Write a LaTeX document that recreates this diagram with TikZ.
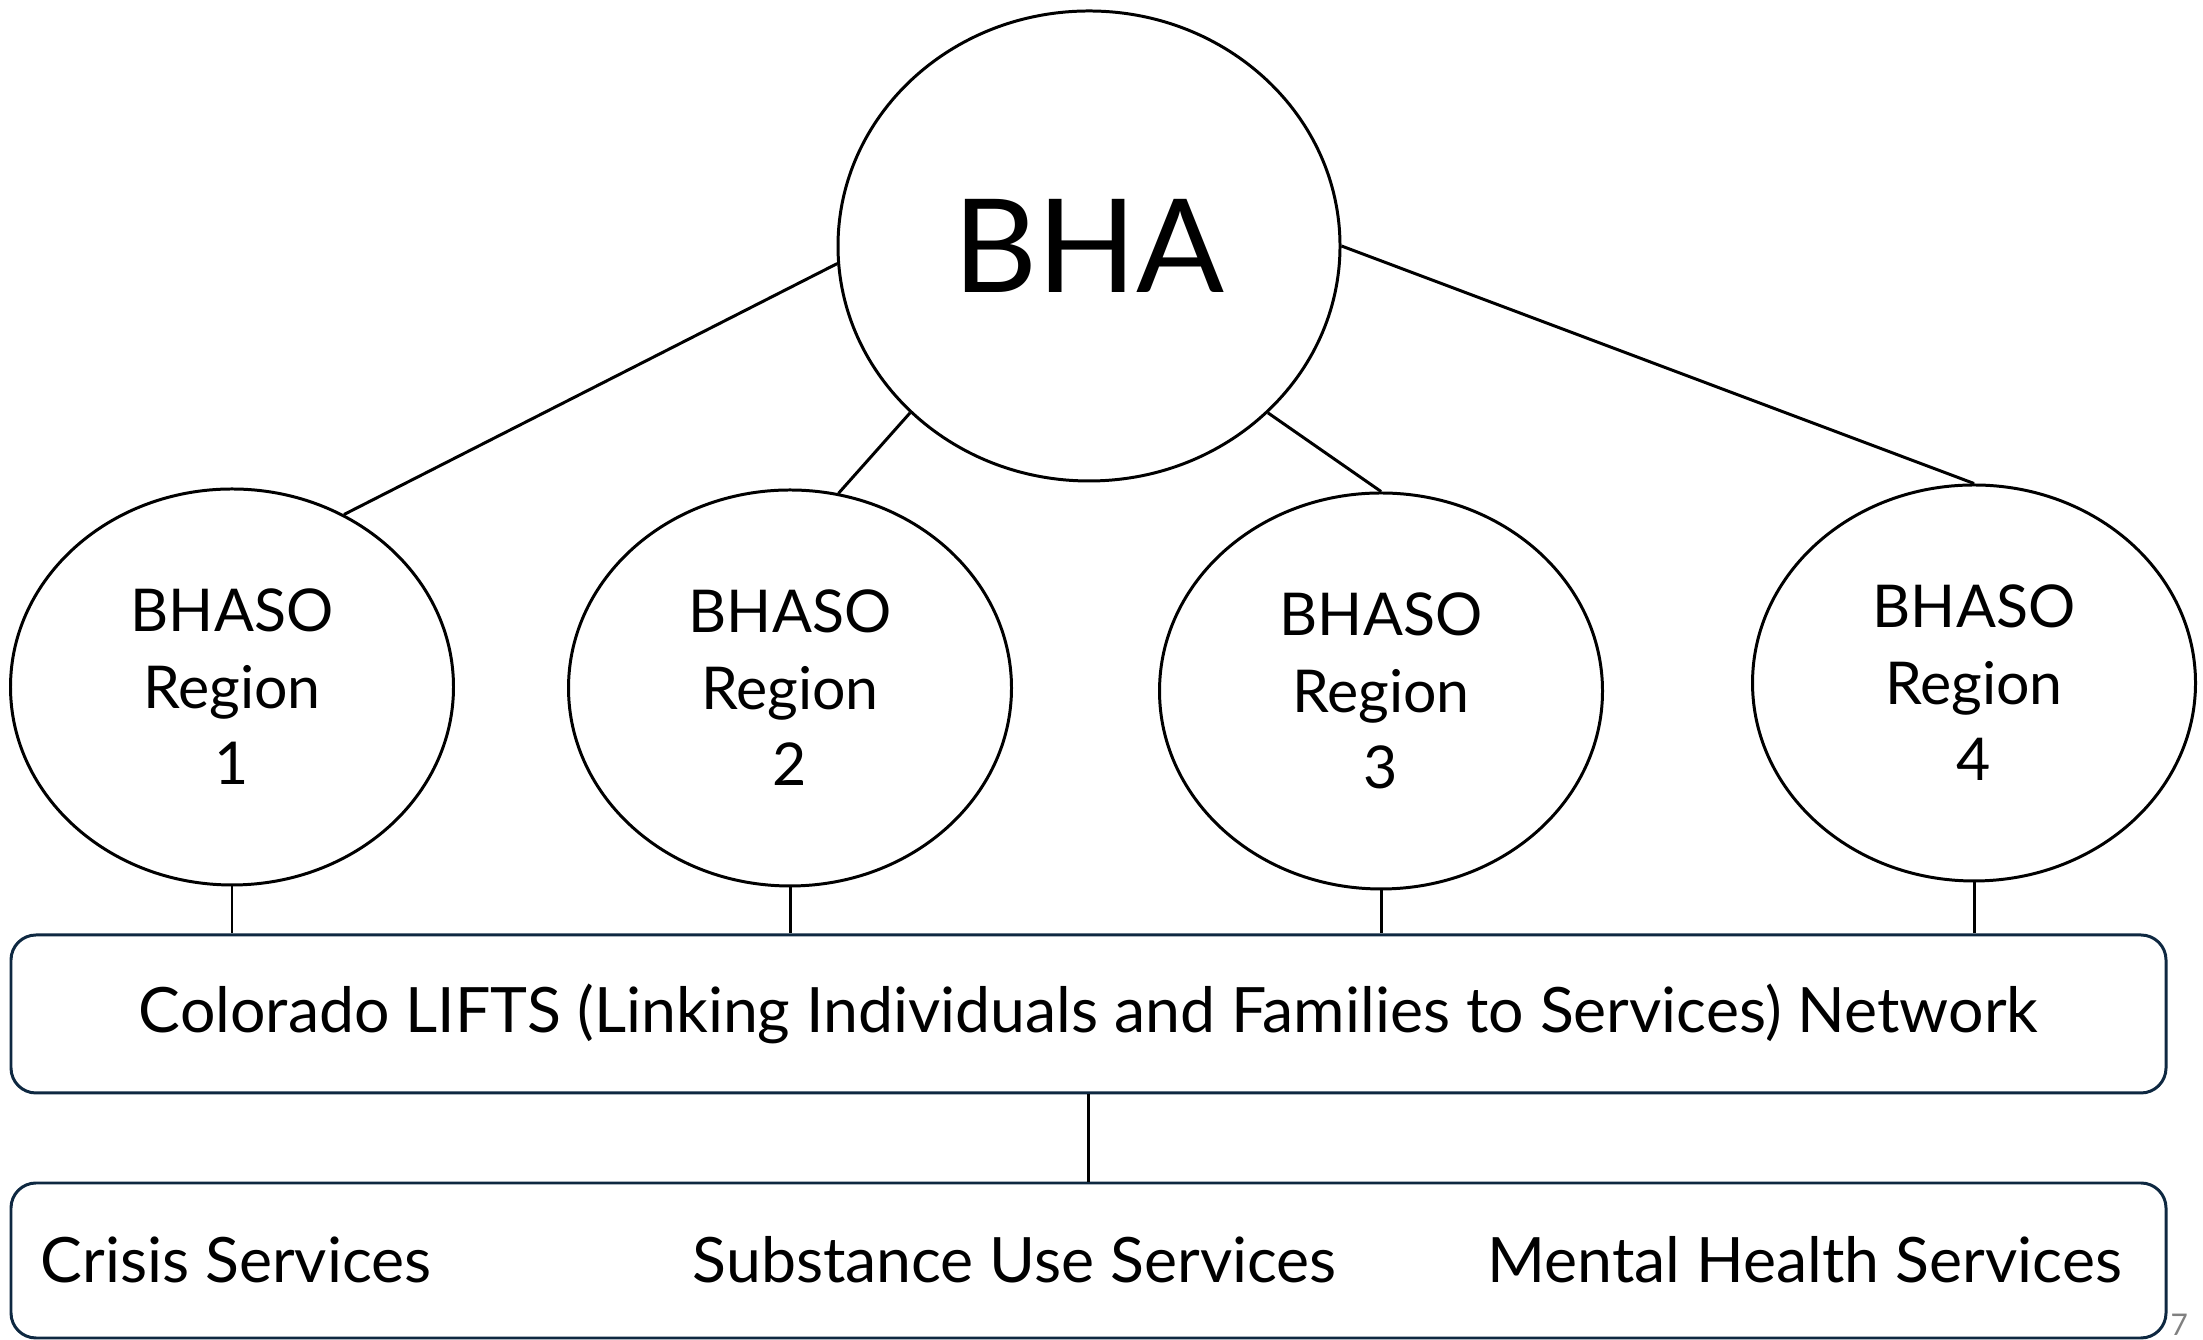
\documentclass[tikz,border=0pt]{standalone}
\usepackage{fontspec}
\setmainfont{Lato}
\usetikzlibrary{shapes,positioning}
\definecolor{navy}{HTML}{0E2841}

\begin{document}
\begin{tikzpicture}
	[font=\fontsize{17.8}{21.8}\selectfont,
	bubble/.style={shape=ellipse,draw=black,line width=.85pt,inner sep=0pt,
		minimum width=4.43cm,minimum height=3.96cm,align=center,
		font=\fontsize{16.8}{21.8}\selectfont},
	band/.style={shape=rectangle,draw=navy,line width=.85pt,rounded corners=.25cm,
		minimum width=21.55cm,inner sep=0pt},
	label/.style={anchor=base west,inner sep=0pt},
	link/.style={line width=.85pt}]
	\useasboundingbox (0,0) rectangle (22.03,13.40);
	
	\node (bha) [bubble,minimum width=5.02cm,minimum height=4.70cm,
		font=\fontsize{37}{40}\selectfont] at (10.89,10.94) {BHA};
	
	\node (r1) [bubble] at (2.32,6.53) {BHASO\\Region\\1};
	\node (r2) [bubble] at (7.90,6.52) {BHASO\\Region\\2};
	\node (r3) [bubble] at (13.81,6.49) {BHASO\\Region\\3};
	\node (r4) [bubble] at (19.74,6.57) {BHASO\\Region\\4};
	
	\node (lifts) [band,minimum height=1.58cm] at (10.885,3.26)
		{Colorado LIFTS (Linking Individuals and Families to Services) Network};
	\node (svc) [band,minimum height=1.55cm] at (10.885,0.795) {};
	
	\node (crisis) [label] at (0.40,0.57) {Crisis Services};
	\node (sud) [label] at (6.92,0.57) {Substance Use Services};
	\node (mh) [label] at (14.87,0.57) {Mental Health Services};
	
	\node (pg) [anchor=base west,inner sep=0pt,text=gray,
		font=\fontsize{8.5}{9}\selectfont] at (21.70,0.04) {7};
	
	\draw [link] (bha.184) to (r1.57);
	\draw [link] (bha.223) to (r2.76);
	\draw [link] (bha.-43) to (r3.north);
	\draw [link] (bha.east) to (r4.north);
	
	\draw [link] (r1.south) to (r1.south |- lifts.north);
	\draw [link] (r2.south) to (r2.south |- lifts.north);
	\draw [link] (r3.south) to (r3.south |- lifts.north);
	\draw [link] (r4.south) to (r4.south |- lifts.north);
	
	\draw [link] (lifts.south) to (svc.north);
\end{tikzpicture}
\end{document}
